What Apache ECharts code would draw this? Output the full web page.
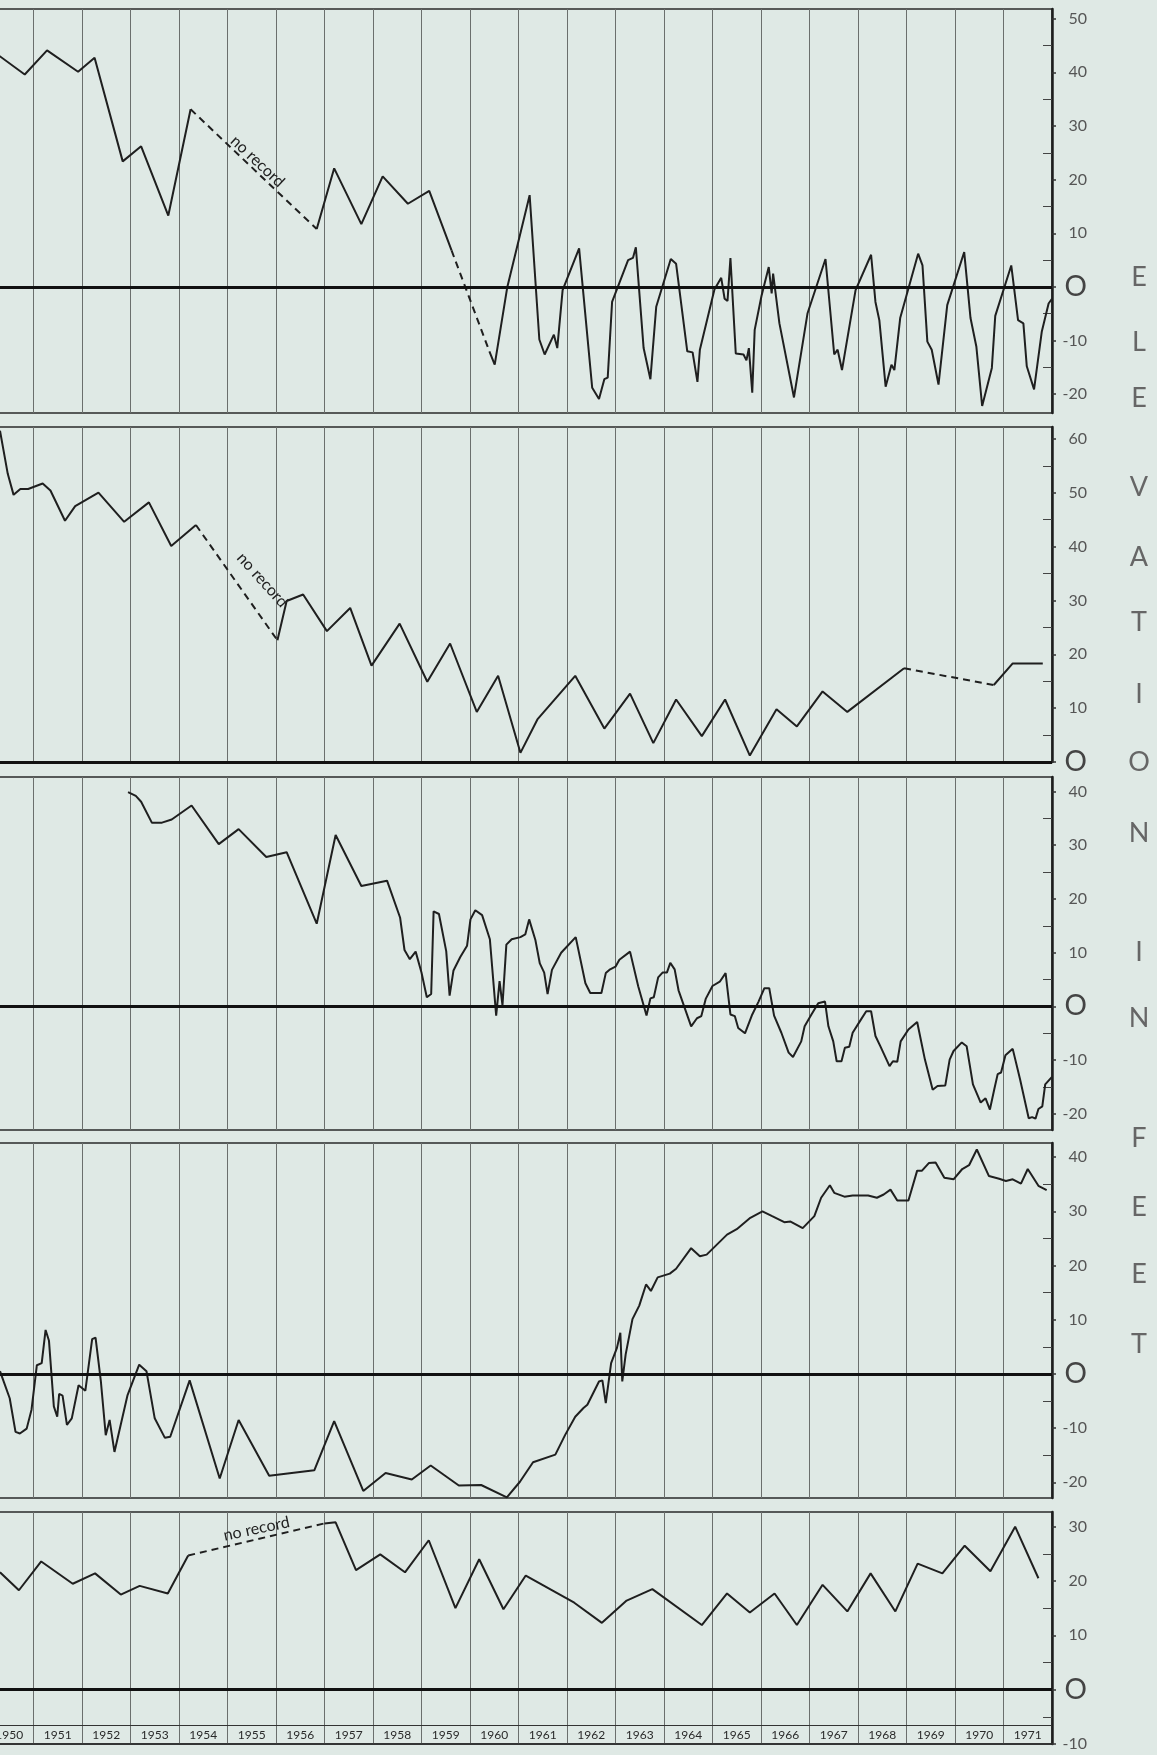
<!DOCTYPE html>
<html><head><meta charset="utf-8">
<script src="https://cdn.jsdelivr.net/npm/echarts@6/dist/echarts.min.js"></script>
<style>html,body{margin:0;padding:0;background:#dfe9e5;}#c{width:1157px;height:1755px;}</style>
</head><body><div id="c"></div>
<script>
// ---------- data ----------
const yearLabels = [1950,1951,1952,1953,1954,1955,1956,1957,1958,1959,1960,1961,1962,1963,1964,1965,1966,1967,1968,1969,1970,1971];
const yearTicks = [1951,1952,1953,1954,1955,1956,1957,1958,1959,1960,1961,1962,1963,1964,1965,1966,1967,1968,1969,1970,1971];
const xStart = 1950.31, xEnd = 1972;
const noRecord = 'no record';
const axisTitle = ['E','L','E','V','A','T','I','O','N','I','N','F','E','E','T'];

// Panel 1
const p1a = [[1950.29,43.1],[1950.82,39.6],[1951.28,44.1],[1951.92,40.1],[1952.26,42.7],[1952.84,23.4],[1953.22,26.2],[1953.78,13.3],[1954.24,33.1]];
const p1b = [[1954.24,33.1],[1956.84,10.8]];
const p1c = [[1956.84,10.8],[1957.20,22.1],[1957.76,11.7],[1958.20,20.6],[1958.72,15.5],[1959.16,17.9],[1959.62,6.8]];
const p1d = [[1959.62,6.8],[1960.40,-12.0]];
const p1e = [[1960.40,-12.0],[1960.51,-14.5],[1960.77,0],[1961.23,17.1],[1961.43,-9.8],[1961.54,-12.6],[1961.73,-8.9],[1961.80,-11.4],[1961.91,-0.6],[1962.25,7.2],[1962.52,-18.8],[1962.66,-20.9],[1962.77,-17.2],[1962.84,-16.9],[1962.93,-2.8],[1963.26,5.0],[1963.36,5.4],[1963.42,7.4],[1963.58,-11.4],[1963.72,-17.2],[1963.84,-3.7],[1964.14,5.2],[1964.25,4.3],[1964.48,-12.0],[1964.59,-12.2],[1964.69,-17.7],[1964.74,-11.7],[1965.04,-0.5],[1965.18,1.7],[1965.25,-2.2],[1965.31,-2.6],[1965.37,5.4],[1965.48,-12.4],[1965.64,-12.6],[1965.70,-13.7],[1965.75,-11.4],[1965.82,-19.7],[1965.87,-8.0],[1966.01,-1.7],[1966.16,3.7],[1966.22,-1.2],[1966.25,2.5],[1966.38,-6.8],[1966.68,-20.6],[1966.96,-4.9],[1967.33,5.2],[1967.51,-12.6],[1967.58,-11.7],[1967.67,-15.5],[1967.95,-0.6],[1968.27,6.0],[1968.36,-2.8],[1968.44,-6.2],[1968.57,-18.6],[1968.69,-14.5],[1968.75,-15.5],[1968.87,-5.8],[1969.24,6.2],[1969.33,4.0],[1969.43,-10.2],[1969.52,-11.7],[1969.66,-18.2],[1969.84,-3.4],[1970.19,6.5],[1970.32,-5.8],[1970.44,-11.1],[1970.56,-22.2],[1970.76,-15.1],[1970.83,-5.4],[1971.16,4.0],[1971.30,-6.2],[1971.41,-6.8],[1971.48,-14.8],[1971.63,-19.1],[1971.79,-8.3],[1971.93,-3.1],[1972.0,-2.2]];

// Panel 2
const p2a = [[1950.31,61.5],[1950.38,58.0],[1950.47,53.5],[1950.59,49.6],[1950.73,50.7],[1950.89,50.7],[1951.19,51.7],[1951.35,50.4],[1951.65,44.8],[1951.86,47.5],[1952.34,50.0],[1952.87,44.6],[1953.38,48.2],[1953.84,40.1],[1954.35,44.0]];
const p2b = [[1954.35,44.0],[1956.03,22.6]];
const p2c = [[1956.03,22.6],[1956.22,29.9],[1956.56,31.1],[1957.05,24.3],[1957.53,28.6],[1957.97,17.9],[1958.55,25.7],[1959.12,14.9],[1959.59,22.0],[1960.14,9.3],[1960.58,16.0],[1961.04,1.7],[1961.39,7.9],[1962.17,16.0],[1962.77,6.2],[1963.30,12.7],[1963.78,3.5],[1964.25,11.6],[1964.78,4.8],[1965.26,11.6],[1965.77,1.2],[1966.32,9.8],[1966.74,6.6],[1967.27,13.1],[1967.78,9.3],[1968.95,17.4]];
const p2d = [[1968.95,17.4],[1970.80,14.3]];
const p2e = [[1970.80,14.3],[1971.19,18.3],[1971.81,18.3]];

// Panel 3
const p3a = [[1952.95,39.9],[1953.11,39.2],[1953.22,38.1],[1953.44,34.2],[1953.65,34.2],[1953.85,34.8],[1954.26,37.4],[1954.82,30.2],[1955.23,33.0],[1955.80,27.8],[1956.22,28.7],[1956.84,15.4],[1957.23,31.9],[1957.76,22.4],[1958.29,23.4],[1958.56,16.5],[1958.65,10.5],[1958.76,8.8],[1958.88,10.2],[1959.00,6.3],[1959.11,1.7],[1959.20,2.3],[1959.25,17.7],[1959.36,17.2],[1959.51,10.3],[1959.58,2.0],[1959.66,6.7],[1959.80,9.2],[1959.94,11.3],[1960.01,16.2],[1960.11,17.9],[1960.25,17.0],[1960.41,12.5],[1960.54,-1.7],[1960.61,4.7],[1960.67,0.2],[1960.75,11.5],[1960.86,12.5],[1961.04,12.9],[1961.14,13.4],[1961.22,16.2],[1961.35,12.3],[1961.44,8.0],[1961.53,6.3],[1961.60,2.3],[1961.69,6.8],[1961.88,10.0],[1962.18,12.9],[1962.38,4.3],[1962.48,2.5],[1962.71,2.5],[1962.80,6.2],[1962.89,6.9],[1963.00,7.4],[1963.08,8.7],[1963.30,10.2],[1963.47,3.7],[1963.64,-1.7],[1963.72,1.5],[1963.79,1.7],[1963.88,5.4],[1963.97,6.3],[1964.06,6.3],[1964.13,8.1],[1964.22,6.9],[1964.30,3.0],[1964.56,-3.7],[1964.68,-2.2],[1964.77,-1.8],[1964.86,1.4],[1965.00,3.8],[1965.15,4.6],[1965.27,6.2],[1965.37,-1.5],[1965.46,-1.8],[1965.53,-4.0],[1965.67,-5.0],[1965.81,-1.7],[1965.95,0.9],[1966.07,3.4],[1966.17,3.4],[1966.27,-1.7],[1966.42,-4.9],[1966.57,-8.6],[1966.66,-9.4],[1966.83,-6.5],[1966.90,-3.7],[1967.04,-1.5],[1967.18,0.6],[1967.32,0.9],[1967.39,-3.7],[1967.49,-6.5],[1967.56,-10.2],[1967.66,-10.2],[1967.73,-7.7],[1967.82,-7.5],[1967.89,-4.9],[1968.05,-2.6],[1968.17,-0.9],[1968.27,-0.9],[1968.36,-5.5],[1968.46,-7.4],[1968.65,-11.1],[1968.72,-10.2],[1968.81,-10.3],[1968.88,-6.5],[1969.04,-4.3],[1969.22,-2.9],[1969.38,-9.9],[1969.54,-15.5],[1969.64,-14.8],[1969.80,-14.7],[1969.89,-9.9],[1969.97,-8.3],[1970.14,-6.7],[1970.24,-7.4],[1970.37,-14.5],[1970.53,-17.9],[1970.63,-17.1],[1970.72,-19.2],[1970.81,-15.4],[1970.88,-12.6],[1970.95,-12.3],[1971.04,-9.1],[1971.19,-7.9],[1971.34,-13.5],[1971.52,-20.8],[1971.59,-20.6],[1971.66,-20.9],[1971.72,-19.1],[1971.80,-18.6],[1971.86,-14.5],[1972.00,-13.1]];

// Panel 4
const p4a = [[1950.31,0.5],[1950.51,-4.5],[1950.63,-10.7],[1950.72,-11.0],[1950.86,-10.1],[1950.96,-6.6],[1951.07,1.6],[1951.17,2.0],[1951.25,8.1],[1951.32,6.1],[1951.42,-6.0],[1951.49,-7.9],[1951.53,-3.7],[1951.60,-4.0],[1951.69,-9.4],[1951.79,-8.2],[1951.93,-2.1],[1952.07,-3.1],[1952.21,6.4],[1952.28,6.7],[1952.39,-1.4],[1952.49,-11.3],[1952.57,-8.5],[1952.67,-14.4],[1952.94,-3.9],[1953.18,1.7],[1953.33,0.5],[1953.50,-8.2],[1953.71,-11.8],[1953.82,-11.6],[1954.22,-1.2],[1954.84,-19.3],[1955.23,-8.5],[1955.86,-18.8],[1956.79,-17.8],[1957.20,-8.7],[1957.80,-21.6],[1958.26,-18.3],[1958.80,-19.5],[1959.19,-16.9],[1959.77,-20.6],[1960.23,-20.5],[1960.76,-22.8],[1961.03,-19.9],[1961.30,-16.3],[1961.76,-14.9],[1961.96,-11.3],[1962.17,-7.9],[1962.34,-6.3],[1962.42,-5.7],[1962.66,-1.4],[1962.73,-1.2],[1962.80,-5.4],[1962.91,2.0],[1963.03,4.8],[1963.10,7.6],[1963.14,-1.4],[1963.21,3.6],[1963.35,10.1],[1963.49,12.6],[1963.63,16.5],[1963.73,15.3],[1963.87,17.8],[1964.12,18.5],[1964.25,19.4],[1964.56,23.2],[1964.74,21.7],[1964.88,22.0],[1965.30,25.7],[1965.50,26.7],[1965.78,28.8],[1966.03,30.0],[1966.23,29.1],[1966.48,28.0],[1966.61,28.1],[1966.86,26.9],[1967.10,29.1],[1967.24,32.5],[1967.42,34.8],[1967.51,33.4],[1967.72,32.7],[1967.89,32.9],[1968.21,32.9],[1968.39,32.5],[1968.53,33.1],[1968.67,34.0],[1968.81,32.0],[1969.04,32.0],[1969.22,37.5],[1969.32,37.5],[1969.46,38.9],[1969.60,39.0],[1969.78,36.2],[1969.97,35.9],[1970.15,37.8],[1970.29,38.5],[1970.45,41.4],[1970.70,36.5],[1970.91,36.0],[1971.05,35.6],[1971.19,35.9],[1971.36,35.1],[1971.50,37.8],[1971.72,34.7],[1971.89,33.9]];

// Panel 5
const p5a = [[1950.31,21.6],[1950.70,18.3],[1951.16,23.6],[1951.81,19.5],[1952.27,21.4],[1952.80,17.5],[1953.19,19.1],[1953.77,17.7],[1954.19,24.7]];
const p5b = [[1954.19,24.7],[1957.0,30.6]];
const p5c = [[1957.0,30.6],[1957.23,30.8],[1957.65,22.0],[1958.15,24.9],[1958.66,21.6],[1959.15,27.5],[1959.70,15.0],[1960.19,24.0],[1960.69,14.8],[1961.15,21.0],[1962.15,16.0],[1962.72,12.3],[1963.23,16.4],[1963.76,18.5],[1964.78,11.9],[1965.30,17.7],[1965.77,14.2],[1966.28,17.7],[1966.74,11.9],[1967.27,19.3],[1967.78,14.4],[1968.26,21.4],[1968.77,14.4],[1969.23,23.2],[1969.74,21.4],[1970.20,26.5],[1970.73,21.8],[1971.24,30.0],[1971.72,20.5]];

// axis ticks per panel
const p1Major = [50,40,30,20,10,0,-10,-20], p1Minor = [45,35,25,15,5,-5,-15];
const p2Major = [60,50,40,30,20,10,0], p2Minor = [55,45,35,25,15,5];
const p3Major = [40,30,20,10,0,-10,-20], p3Minor = [35,25,15,5,-5,-15];
const p4Major = [40,30,20,10,0,-10,-20], p4Minor = [35,25,15,5,-5,-15];
const p5Major = [30,20,10,0,-10], p5Minor = [25,15,5,-5];
const yearLabelPos = yearLabels.map(y => y + 0.5);

// ---------- layout ----------
const panels = [
  {top: 9,    height: 404, min: -23.5, max: 51.8, major: p1Major, minor: p1Minor},
  {top: 427,  height: 335, min: 0,     max: 62.2, major: p2Major, minor: p2Minor},
  {top: 777,  height: 353, min: -23.0, max: 42.7, major: p3Major, minor: p3Minor},
  {top: 1143, height: 355, min: -22.9, max: 42.6, major: p4Major, minor: p4Minor},
  {top: 1512, height: 232, min: -10,   max: 32.7, major: p5Major, minor: p5Minor}
];
const INK = '#1f1f1f';
const FONT = 'Lato, "DejaVu Sans", sans-serif';

const grid = [], xAxis = [], yAxis = [], series = [];
panels.forEach((p, i) => {
  grid.push({left: -1, right: 105, top: p.top, height: p.height, show: true,
    outerBoundsMode: 'none', containLabel: false,
    borderColor: '#2a2a2a', borderWidth: 1.5, backgroundColor: 'transparent'});
  const last = i === panels.length - 1;
  xAxis.push({type: 'value', gridIndex: i, min: xStart - 1 / 48.5, max: xEnd,
    axisLine: {show: last, onZero: false, lineStyle: {color: '#2a2a2a', width: 1.5}},
    axisTick: {show: false, customValues: yearTicks},
    splitLine: {show: true, lineStyle: {color: '#6b6f6d', width: 1}},
    axisLabel: last ? {show: true, inside: true, margin: 3, customValues: yearLabelPos,
      formatter: v => String(Math.floor(v)), color: '#2a2a2a', fontSize: 12, fontFamily: FONT} : {show: false}
  });
  yAxis.push({type: 'value', gridIndex: i, position: 'right', min: p.min, max: p.max,
    axisLine: {show: true, onZero: false, lineStyle: {color: '#1e1e1e', width: 2.5}},
    axisTick: {show: true, inside: false, length: 4, customValues: p.major, lineStyle: {color: '#333', width: 1.5}},
    axisLabel: {show: true, customValues: p.major, align: 'right', margin: 35,
      formatter: v => v === 0 ? '{z|O}' : String(v),
      color: '#555', fontSize: 16, fontFamily: FONT,
      rich: {z: {fontSize: 28, color: '#444', fontFamily: FONT}}},
    splitLine: {show: false}
  });
  yAxis.push({type: 'value', gridIndex: i, position: 'right', min: p.min, max: p.max,
    axisLine: {show: false},
    axisTick: {show: true, inside: true, length: 9, customValues: p.minor, lineStyle: {color: '#444', width: 1}},
    axisLabel: {show: false}, splitLine: {show: false}
  });
});

function seg(data, gi, dashed, extra) {
  return Object.assign({type: 'line', xAxisIndex: gi, yAxisIndex: gi * 2, data: data,
    showSymbol: false, symbol: 'none', silent: true, animation: false, clip: true,
    lineStyle: {color: INK, width: 2, type: dashed ? [7, 5] : 'solid'}}, extra || {});
}
function zeroLine(extraLines) {
  return {silent: true, symbol: 'none', label: {show: false}, animation: false,
    lineStyle: {color: '#111', width: 3, type: 'solid'},
    data: [{yAxis: 0}].concat(extraLines || [])};
}
function note(coord, rot) {
  return {symbol: 'circle', symbolSize: 0, silent: true, animation: false,
    label: {show: true, position: 'inside', formatter: noRecord, rotate: rot, color: '#222', fontSize: 16, fontFamily: FONT},
    data: [{coord: coord}]};
}

series.push(seg(p1a, 0, false, {markLine: zeroLine()}));
series.push(seg(p1b, 0, true, {markPoint: note([1955.62, 23.4], -43)}));
series.push(seg(p1c, 0, false));
series.push(seg(p1d, 0, true));
series.push(seg(p1e, 0, false));

series.push(seg(p2a, 1, false, {markLine: zeroLine()}));
series.push(seg(p2b, 1, true, {markPoint: note([1955.72, 33.8], -48)}));
series.push(seg(p2c, 1, false));
series.push(seg(p2d, 1, true));
series.push(seg(p2e, 1, false));

series.push(seg(p3a, 2, false, {markLine: zeroLine()}));
series.push(seg(p4a, 3, false, {markLine: zeroLine()}));

series.push(seg(p5a, 4, false, {markLine: zeroLine([{yAxis: -6.6, lineStyle: {width: 1.2, color: '#333'}}])}));
series.push(seg(p5b, 4, true, {markPoint: note([1955.6, 29.6], 12)}));
series.push(seg(p5c, 4, false));

const titleY = [277, 342, 398, 487, 557, 622, 694, 762, 833, 952, 1018, 1138, 1207, 1274, 1344];
const graphic = axisTitle.map((ch, k) => ({type: 'text', x: 1139, y: titleY[k], silent: true,
  style: {text: ch, fontSize: 27, fontFamily: FONT, fontWeight: 'normal', fill: '#666', align: 'center', verticalAlign: 'middle'}}));

const chart = echarts.init(document.getElementById('c'), null, {renderer: 'canvas'});
chart.setOption({backgroundColor: '#dfe9e5', animation: false, grid, xAxis, yAxis, series, graphic});
</script></body></html>
